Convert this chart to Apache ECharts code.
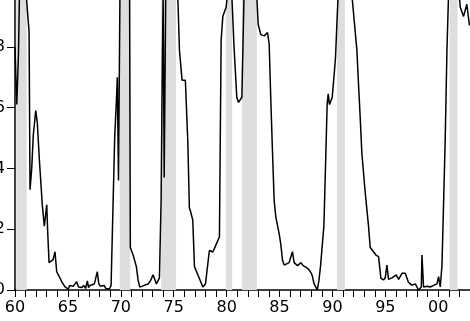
<!DOCTYPE html>
<html>
<head>
<meta charset="utf-8">
<script src="https://cdn.jsdelivr.net/npm/echarts@6/dist/echarts.min.js"></script>
<style>
html,body{margin:0;padding:0;background:#fff;}
#chart{width:470px;height:321px;}
</style>
</head>
<body>
<div id="chart"></div>
<script>
// recession probability (decimal years)
var dates = [
	1960.00,1960.08,1960.17,1960.33,1960.42,1960.67,1961.00,1961.17,1961.33,1961.42,
	1961.58,1961.73,1961.96,1962.11,1962.30,1962.43,1962.58,1962.77,1962.90,1963.00,
	1963.09,1963.22,1963.40,1963.60,1963.78,1963.94,1964.10,1964.26,1964.42,1964.57,
	1964.73,1964.89,1965.04,1965.17,1965.33,1965.50,1965.67,1965.83,1966.00,1966.17,
	1966.33,1966.50,1966.67,1966.84,1966.95,1967.08,1967.25,1967.50,1967.67,1967.78,
	1967.92,1968.08,1968.25,1968.42,1968.58,1968.75,1968.92,1969.08,1969.25,1969.42,
	1969.58,1969.67,1969.78,1969.92,1970.20,1970.60,1970.83,1970.90,1971.16,1971.47,
	1971.63,1971.79,1972.00,1972.26,1972.58,1972.80,1973.05,1973.36,1973.65,1973.81,
	1973.92,1974.00,1974.10,1974.25,1974.70,1975.20,1975.39,1975.54,1975.79,1976.10,
	1976.33,1976.48,1976.58,1976.80,1976.96,1977.28,1977.75,1978.00,1978.37,1978.69,
	1978.85,1979.01,1979.32,1979.48,1979.64,1979.95,1980.11,1980.30,1980.49,1980.70,
	1980.96,1981.12,1981.44,1981.65,1982.00,1982.50,1982.86,1982.98,1983.23,1983.55,
	1983.86,1984.02,1984.18,1984.33,1984.49,1984.65,1984.96,1985.12,1985.28,1985.44,
	1985.60,1985.91,1986.08,1986.22,1986.38,1986.54,1986.70,1987.02,1987.23,1987.49,
	1987.64,1987.80,1988.00,1988.11,1988.25,1988.56,1988.72,1988.87,1989.19,1989.34,
	1989.50,1989.60,1989.72,1989.98,1990.14,1990.29,1990.45,1990.54,1991.00,1991.50,
	1991.84,1992.15,1992.31,1992.46,1992.62,1992.78,1993.10,1993.41,1993.57,1993.88,
	1994.11,1994.36,1994.58,1994.83,1994.99,1995.15,1995.30,1995.62,1996.03,1996.25,
	1996.57,1996.88,1997.19,1997.51,1997.83,1998.14,1998.40,1998.46,1998.61,1998.93,
	1999.24,1999.56,1999.88,2000.03,2000.19,2000.35,2000.50,2000.66,2000.82,2000.97,
	2001.40,2001.92,2002.08,2002.39,2002.70,2002.95
];
var probs = [
	0.80,0.70,0.61,0.78,0.97,1.00,1.00,0.92,0.85,0.33,
	0.40,0.51,0.59,0.55,0.43,0.36,0.28,0.21,0.25,0.28,
	0.19,0.09,0.09,0.10,0.126,0.06,0.05,0.045,0.027,0.03,
	0.01,0.015,0.003,0.015,0.01,0.012,0.015,0.027,0.01,0.012,
	0.008,0.015,0.005,0.03,0.008,0.015,0.01,0.02,0.045,0.06,
	0.02,0.012,0.01,0.015,0.005,0.008,0.003,0.015,0.01,0.50,
	0.62,0.70,0.36,0.98,1.00,1.00,0.97,0.14,0.115,0.077,
	0.033,0.01,0.012,0.016,0.02,0.03,0.05,0.02,0.04,0.30,
	0.73,0.97,0.37,0.99,1.00,1.00,0.96,0.79,0.69,0.69,
	0.49,0.27,0.26,0.23,0.077,0.05,0.01,0.02,0.13,0.125,
	0.137,0.14,0.175,0.82,0.90,0.93,0.98,1.00,0.97,0.80,
	0.634,0.617,0.634,0.98,1.00,1.00,0.96,0.874,0.84,0.836,
	0.847,0.81,0.62,0.46,0.295,0.24,0.186,0.15,0.098,0.082,
	0.085,0.09,0.11,0.126,0.09,0.09,0.08,0.09,0.08,0.075,
	0.08,0.066,0.055,0.045,0.022,0.0,0.03,0.077,0.21,0.40,
	0.61,0.645,0.61,0.634,0.70,0.765,0.90,0.97,1.00,1.00,
	0.97,0.85,0.79,0.68,0.57,0.45,0.32,0.21,0.14,0.126,
	0.115,0.11,0.038,0.033,0.04,0.082,0.035,0.04,0.05,0.035,
	0.055,0.055,0.025,0.016,0.02,0.0,0.01,0.115,0.01,0.012,
	0.01,0.015,0.02,0.044,0.01,0.08,0.28,0.50,0.787,0.97,
	1.00,0.99,0.93,0.90,0.94,0.87
];
// NBER recessions, start / end
var recStart = [1960.12,1969.90,1973.81,1979.95,1981.45,1990.44,2001.07];
var recEnd   = [1961.10,1970.90,1975.22,1980.52,1982.86,1991.18,2001.83];

function initChart()
{
	var lineData = [] ;
	for( var i = 0 ; i < dates.length ; i++ )
		lineData.push( [ dates[i], probs[i] ] ) ;

	var areas = [] ;
	for( var j = 0 ; j < recStart.length ; j++ )
		areas.push( [ { xAxis: recStart[j] }, { xAxis: recEnd[j] } ] ) ;

	var font = { fontFamily: 'DejaVu Sans', fontSize: 16, color: '#000' } ;

	var option = {
		animation: false,
		backgroundColor: '#fff',
		grid: { left: 15, right: 0, top: -14, bottom: 31, containLabel: false, outerBoundsMode: 'none' },
		xAxis: {
			type: 'value', min: 1960, max: 2003, interval: 1,
			splitLine: { show: false },
			axisLine: { lineStyle: { color: '#000', width: 1.5 } },
			axisTick: { length: 7, lineStyle: { color: '#000', width: 1 } },
			axisLabel: Object.assign( {
				margin: 10,
				hideOverlap: false,
				formatter: function ( v ) {
					if ( v % 5 !== 0 ) return '' ;
					var s = String( v % 100 ) ;
					return s.length < 2 ? '0' + s : s ;
				}
			}, font )
		},
		yAxis: {
			type: 'value', min: 0, max: 1, interval: 0.2,
			splitLine: { show: false },
			axisLine: { show: true, lineStyle: { color: '#000', width: 1.5 } },
			axisTick: { show: true, length: 8, lineStyle: { color: '#000', width: 1 } },
			axisLabel: Object.assign( {
				margin: 10,
				formatter: function ( v ) { return v.toFixed(1) ; }
			}, font )
		},
		series: [ {
			type: 'line',
			data: lineData,
			showSymbol: false,
			clip: true,
			lineStyle: { color: '#000', width: 1.5 },
			markArea: {
				silent: true,
				itemStyle: { color: '#dedede' },
				data: areas
			}
		} ]
	} ;

	var myChart = echarts.init( document.getElementById('chart') ) ;
	myChart.setOption( option ) ;
}

initChart() ;
</script>
</body>
</html>
